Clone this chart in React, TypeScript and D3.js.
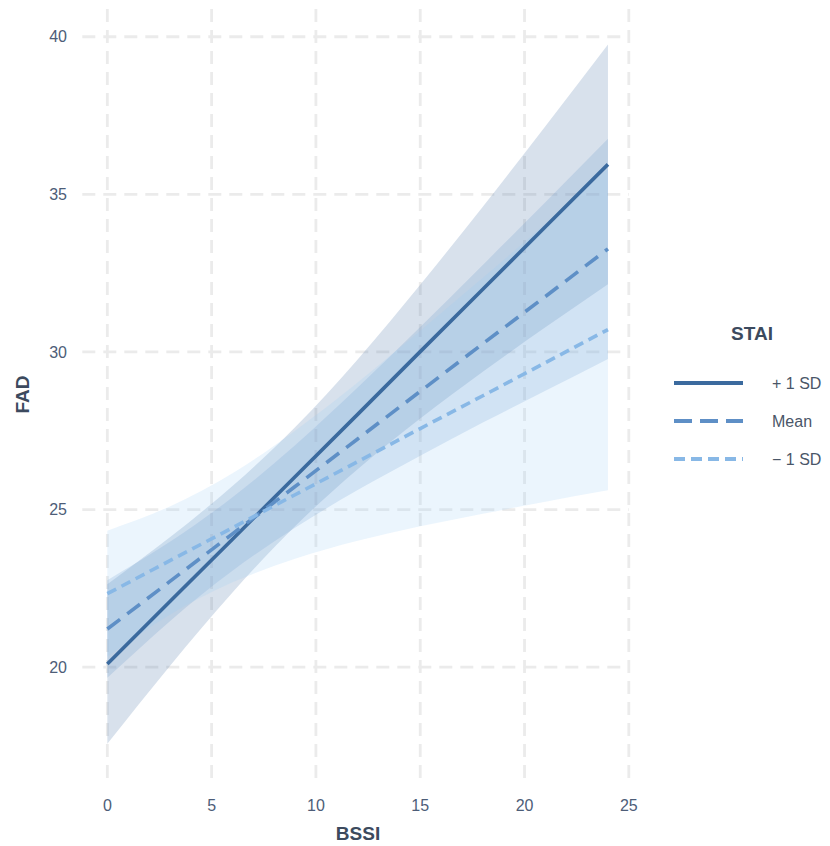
import React from 'react';
import * as d3 from 'd3';

// BSSI values where the fitted lines and bands were read
const bssi = [0, 3, 6, 9, 12, 15, 18, 21, 24];

// STAI +1 SD
const plusFit = [20.1, 22.08, 24.06, 26.04, 28.02, 30.01, 31.99, 33.97, 35.95];
const plusLow = [17.57, 20.04, 22.37, 24.47, 26.28, 27.89, 29.37, 30.78, 32.15];
const plusHigh = [22.63, 24.12, 25.75, 27.61, 29.76, 32.13, 34.61, 37.16, 39.75];

// STAI mean
const meanFit = [21.21, 22.72, 24.23, 25.73, 27.24, 28.75, 30.26, 31.76, 33.27];
const meanLow = [19.66, 21.46, 23.06, 24.42, 25.62, 26.71, 27.76, 28.77, 29.78];
const meanHigh = [22.76, 23.98, 25.39, 27.04, 28.87, 30.79, 32.76, 34.75, 36.76];

// STAI -1 SD
const minusFit = [22.33, 23.38, 24.42, 25.47, 26.52, 27.57, 28.61, 29.66, 30.71];
const minusLow = [20.33, 21.66, 22.69, 23.44, 24.01, 24.47, 24.87, 25.25, 25.61];
const minusHigh = [24.33, 25.1, 26.15, 27.5, 29.03, 30.67, 32.35, 34.07, 35.81];

const xTicks = [0, 5, 10, 15, 20, 25];
const yTicks = [20, 25, 30, 35, 40];

const series = [
  { label: '+ 1 SD', fit: plusFit, low: plusLow, high: plusHigh, color: '#3b6a9e', fill: '#3b6a9e', dash: null, legDash: null },
  { label: 'Mean', fit: meanFit, low: meanLow, high: meanHigh, color: '#5e8fc6', fill: '#5e8fc6', dash: '16 9', legDash: '18 8' },
  { label: '\u2212 1 SD', fit: minusFit, low: minusLow, high: minusHigh, color: '#88b8e6', fill: '#9ccdf7', dash: '10 6', legDash: '11 6' },
];

const width = 830;
const height = 846;
const font = '"Liberation Sans", Arial, sans-serif';

const App = () => {
  const x = d3.scaleLinear().domain([-1.2, 25.2]).range([82.3, 633]);
  const y = d3.scaleLinear().domain([16.42, 40.88]).range([780, 9]);

  const band = d3.area<number>()
    .x((_, i) => x(bssi[i]))
    .curve(d3.curveNatural);

  const line = d3.line<number>()
    .x((_, i) => x(bssi[i]))
    .y(d => y(d));

  const [x0, x1] = x.range();
  const [yb, yt] = y.range();

  return (
    <svg width={width} height={height} style={{ position: 'absolute', left: 0, top: 0, background: '#fff' }} fontFamily={font}>
      {/* grid */}
      <g stroke="#ebebeb" strokeWidth={2.8} strokeDasharray="13 8" fill="none">
        {yTicks.map(t => (
          <line key={'gy' + t} x1={x0} x2={x1 - 4} y1={y(t)} y2={y(t)} />
        ))}
        {xTicks.map(t => (
          <line key={'gx' + t} x1={x(t)} x2={x(t)} y1={yt} y2={yb} />
        ))}
      </g>

      {/* confidence bands */}
      {series.map(s => (
        <path
          key={'band' + s.label}
          d={band.y0((_, i) => y(s.low[i])).y1((_, i) => y(s.high[i]))(s.fit) || ''}
          fill={s.fill}
          fillOpacity={0.2}
        />
      ))}

      {/* fitted lines */}
      {series.map(s => (
        <path
          key={'line' + s.label}
          d={line(s.fit) || ''}
          fill="none"
          stroke={s.color}
          strokeWidth={3.6}
          strokeDasharray={s.dash || undefined}
        />
      ))}

      {/* axis labels */}
      <g fill="#4d5d78" fontSize={16}>
        {yTicks.map(t => (
          <text key={'ty' + t} x={67} y={y(t)} dy="0.35em" textAnchor="end">{t}</text>
        ))}
        {xTicks.map(t => (
          <text key={'tx' + t} x={x(t)} y={805} dy="0.35em" textAnchor="middle">{t}</text>
        ))}
      </g>
      <text x={358} y={833} dy="0.35em" textAnchor="middle" fontWeight="bold" fontSize={19} fill="#3c4a5e">BSSI</text>
      <text transform={`translate(22,${(yt + yb) / 2}) rotate(-90)`} dy="0.35em" textAnchor="middle" fontWeight="bold" fontSize={19} fill="#3c4a5e">FAD</text>

      {/* legend */}
      <text x={752} y={333} dy="0.35em" textAnchor="middle" fontWeight="bold" fontSize={19} fill="#3c4a5e">STAI</text>
      {series.map((s, i) => (
        <g key={'leg' + s.label} transform={`translate(0,${383 + i * 38})`}>
          <line x1={674} x2={743} y1={0} y2={0} stroke={s.color} strokeWidth={4} strokeDasharray={s.legDash || undefined} />
          <text x={772} y={0} dy="0.35em" fontSize={16} fill="#4a5668">{s.label}</text>
        </g>
      ))}
    </svg>
  );
};

export default App;
